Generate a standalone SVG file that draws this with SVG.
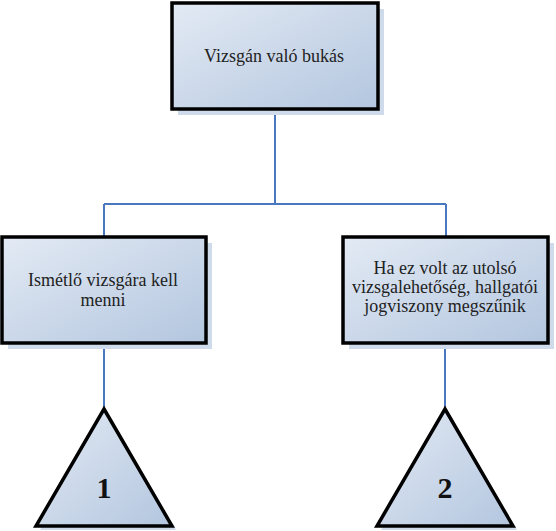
<svg xmlns="http://www.w3.org/2000/svg" width="556" height="531" viewBox="0 0 556 531">
<defs>
<linearGradient id="fill" x1="0" y1="0" x2="1" y2="1">
<stop offset="0" stop-color="#e3eaf4"/>
<stop offset="1" stop-color="#b3c6df"/>
</linearGradient>
<style>
.shadow{fill:#cfdaeb;stroke:none}
.box{fill:url(#fill);stroke:#000;stroke-width:3.5}
.lbl{font-family:'Liberation Serif','Times New Roman','DejaVu Serif',serif;font-size:18px;fill:#222;text-anchor:middle}
.num{font-family:'Liberation Serif','Times New Roman','DejaVu Serif',serif;font-size:30px;font-weight:bold;fill:#111;text-anchor:middle}
.conn{fill:none;stroke:#4a78c0;stroke-width:2}
</style>
</defs>
<rect width="556" height="531" fill="#fff"/>
<g id="connectors">
<path class="conn" d="M275,109 V204 M104,204 H446 M104,204 V238 M446,204 V238 M104,343 V409 M445,343 V409"/>
</g>
<g id="node-top">
<rect class="shadow" x="178" y="9" width="206" height="106"/>
<rect class="box" x="172" y="3" width="206" height="106"/>
<text class="lbl" x="274" y="62">Vizsgán való bukás</text>
</g>
<g id="node-left">
<rect class="shadow" x="8" y="243" width="204" height="106"/>
<rect class="box" x="2" y="237" width="204" height="106"/>
<text class="lbl" x="103" y="286">Ismétlő vizsgára kell</text>
<text class="lbl" x="103" y="306">menni</text>
</g>
<g id="node-right">
<rect class="shadow" x="349" y="243" width="205" height="106"/>
<rect class="box" x="343" y="237" width="205" height="106"/>
<text class="lbl" x="445" y="274">Ha ez volt az utolsó</text>
<text class="lbl" x="445" y="293">vizsgalehetőség, hallgatói</text>
<text class="lbl" x="445" y="312">jogviszony megszűnik</text>
</g>
<g id="tri-1">
<polygon class="shadow" points="108,413 176,530 40,530"/>
<polygon class="box" points="104,409 172,526 36,526"/>
<text class="num" x="104" y="498">1</text>
</g>
<g id="tri-2">
<polygon class="shadow" points="449,413 517,530 381,530"/>
<polygon class="box" points="445,409 513,526 377,526"/>
<text class="num" x="445" y="498">2</text>
</g>
</svg>
